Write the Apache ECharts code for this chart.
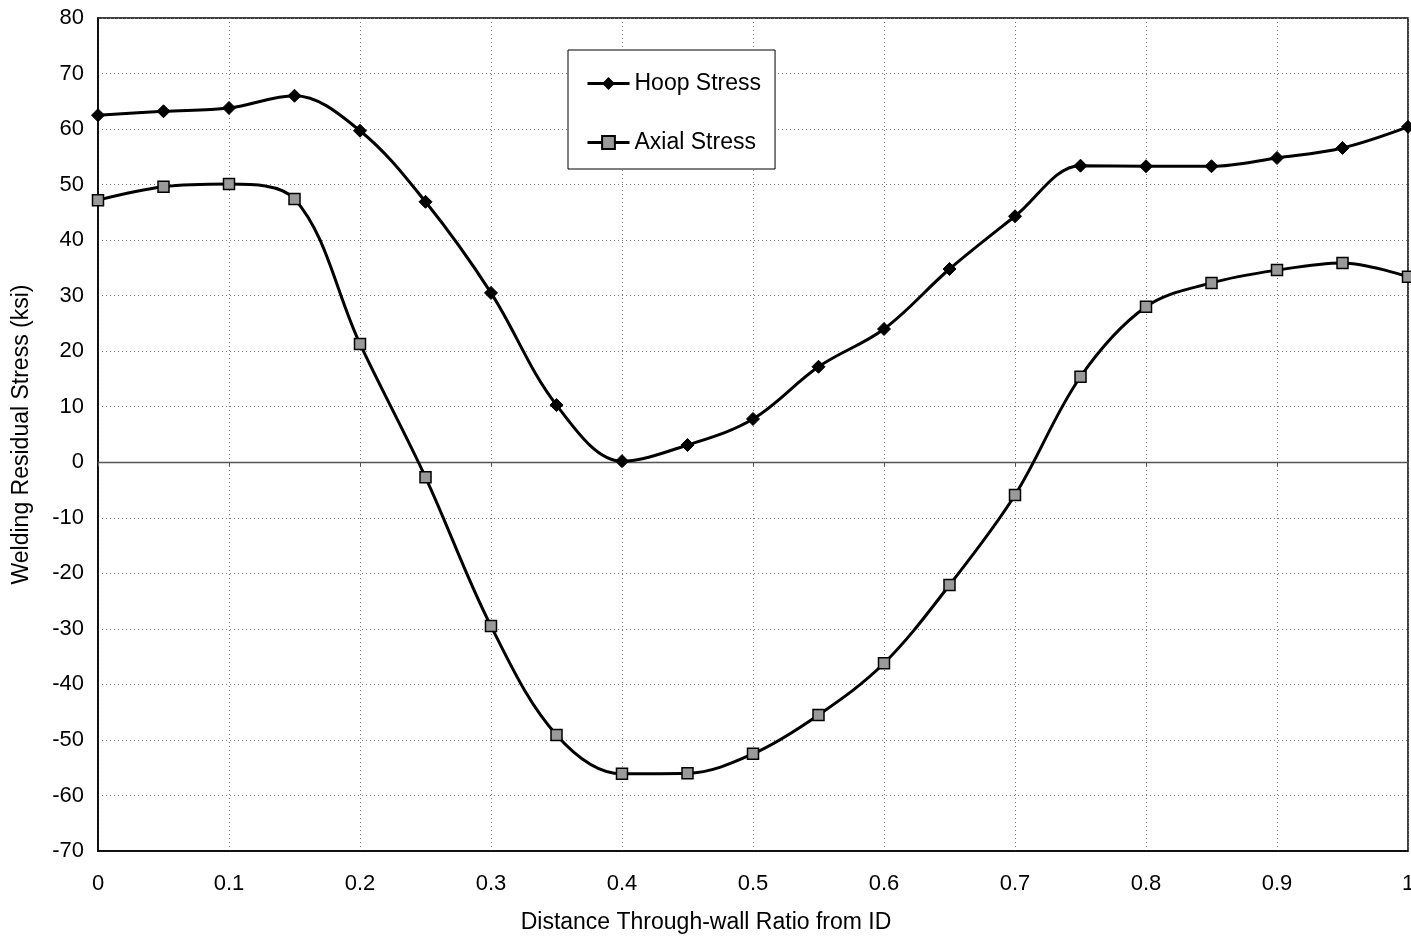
<!DOCTYPE html>
<html>
<head>
<meta charset="utf-8">
<script src="https://cdn.jsdelivr.net/npm/echarts@6/dist/echarts.min.js"></script>
<style>
html,body{margin:0;padding:0;background:#fff;}
#chart{width:1411px;height:940px;}
</style>
</head>
<body>
<div id="chart"></div>
<script>
// Through-wall position (fraction of wall thickness from ID)
const positions = [0, 0.05, 0.1, 0.15, 0.2, 0.25, 0.3, 0.35, 0.4, 0.45, 0.5,
                   0.55, 0.6, 0.65, 0.7, 0.75, 0.8, 0.85, 0.9, 0.95, 1.0];
// Welding residual stress, ksi
const hoopStress  = [62.5, 63.2, 63.8, 66.0, 59.7, 46.9, 30.5, 10.3, 0.2, 3.1, 7.8,
                     17.2, 24.0, 34.8, 44.3, 53.4, 53.3, 53.3, 54.8, 56.6, 60.4];
const axialStress = [47.2, 49.6, 50.1, 47.4, 21.3, -2.7, -29.5, -49.1, -56.1, -56.0, -52.5,
                     -45.5, -36.2, -22.1, -5.9, 15.4, 28.0, 32.3, 34.6, 35.9, 33.4];
const seriesNames = ['Hoop Stress', 'Axial Stress'];

const font = 'Liberation Sans, Arial, sans-serif';
const pairs = arr => positions.map((x, i) => [x, arr[i]]);
const fmtX = v => (Math.round(v * 10) / 10).toString();

const chart = echarts.init(document.getElementById('chart'), null, {renderer: 'canvas'});
chart.setOption({
  backgroundColor: '#fff',
  animation: false,
  grid: {left: 98, right: 3, top: 18, bottom: 89, show: true,
         outerBoundsMode: 'none', containLabel: false,
         borderColor: '#000', borderWidth: 1.5, backgroundColor: 'transparent'},
  legend: {
    orient: 'vertical', left: 568, top: 50,
    padding: [22, 14, 15, 18],
    itemGap: 36,
    itemWidth: 42, itemHeight: 16,
    borderColor: '#000', borderWidth: 1,
    backgroundColor: '#fff',
    lineStyle: {width: 3},
    textStyle: {fontFamily: font, fontSize: 23, color: '#000'},
    data: seriesNames
  },
  xAxis: [{
    type: 'value', min: 0, max: 1, interval: 0.1,
    name: 'Distance Through-wall Ratio from ID',
    nameLocation: 'middle', nameGap: 60,
    nameTextStyle: {fontFamily: font, fontSize: 23, color: '#000', padding: [0, 94, 0, 0]},
    axisLine: {onZero: false, lineStyle: {color: '#000', width: 1.5}},
    axisTick: {show: false},
    axisLabel: {fontFamily: font, fontSize: 22, color: '#000', margin: 22, formatter: fmtX},
    splitLine: {show: true, lineStyle: {color: '#777', type: [1, 3], width: 1}}
  }, {
    type: 'value', min: 0, max: 1, interval: 0.1, position: 'bottom',
    axisLine: {onZero: true, lineStyle: {color: '#555', width: 1.3}},
    axisTick: {show: true, length: 4, inside: false, lineStyle: {color: '#555'}},
    axisLabel: {show: false},
    splitLine: {show: false}
  }],
  yAxis: {
    type: 'value', min: -70, max: 80, interval: 10,
    name: 'Welding Residual Stress (ksi)',
    nameLocation: 'middle', nameGap: 65, nameRotate: 90,
    nameTextStyle: {fontFamily: font, fontSize: 23, color: '#000'},
    axisLine: {lineStyle: {color: '#000', width: 1.5}},
    axisTick: {show: false},
    axisLabel: {fontFamily: font, fontSize: 22, color: '#000', margin: 14},
    splitLine: {show: true, lineStyle: {color: '#777', type: [1, 3], width: 1}}
  },
  series: [{
    name: seriesNames[0], type: 'line', smooth: 0.35,
    data: pairs(hoopStress),
    symbol: 'diamond', symbolSize: 13,
    lineStyle: {color: '#000', width: 3},
    itemStyle: {color: '#000', borderColor: '#000'}
  }, {
    name: seriesNames[1], type: 'line', smooth: 0.35,
    data: pairs(axialStress),
    symbol: 'rect', symbolSize: 11,
    lineStyle: {color: '#000', width: 3},
    itemStyle: {color: '#9a9a9a', borderColor: '#000', borderWidth: 1.5}
  }]
});
</script>
</body>
</html>
